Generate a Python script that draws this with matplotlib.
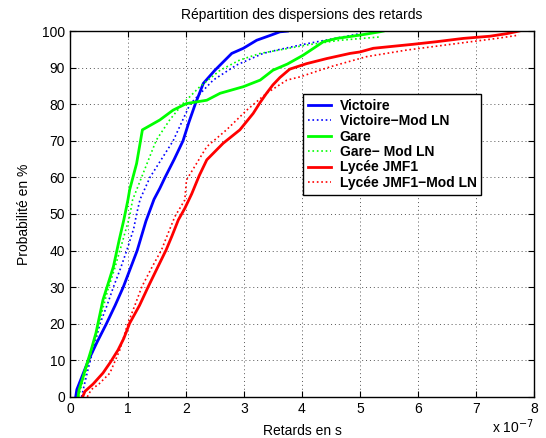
import matplotlib
matplotlib.use("Agg")
import matplotlib.pyplot as plt
from matplotlib.ticker import FuncFormatter, MultipleLocator

plt.rcParams["font.family"] = ["Liberation Sans", "DejaVu Sans"]

SCALE = 1e-7

# ================= DATA (x in units of 1e-7 s, y in %) =================
victoire_x = [0.10, 0.12, 0.22, 0.32, 0.47, 0.63, 0.78, 0.92, 1.04, 1.16, 1.31, 1.45,
              1.55, 1.64, 1.80, 1.95, 2.05, 2.16, 2.30, 2.50, 2.79, 2.99, 3.22, 3.45, 3.62, 3.75]
victoire_y = [0, 2, 6, 10, 15, 20, 25, 30, 35, 40, 48, 54,
              57, 60, 65, 70, 75, 80, 85.7, 89.3, 93.9, 95.3, 97.5, 98.8, 99.8, 100]

victoire_ln_x = [0.20, 0.23, 0.32, 0.42, 0.52, 0.64, 0.75, 0.87, 0.98, 1.10, 1.15, 1.21,
                 1.38, 1.58, 1.78, 2.07, 2.47, 2.87, 3.33, 3.62, 4.00, 4.50, 5.00]
victoire_ln_y = [0, 2, 8, 14, 20, 25, 30, 35, 40, 46, 50, 54,
                 60, 65, 70, 80, 86.6, 90.7, 93.9, 95.0, 96.3, 97.8, 99.3]

gare_x = [0.14, 0.16, 0.22, 0.28, 0.37, 0.45, 0.57, 0.66, 0.75, 0.85, 0.93, 1.00, 1.03,
          1.15, 1.25, 1.35, 1.55, 1.78, 2.01, 2.36, 2.59, 2.99, 3.28, 3.50, 3.75,
          4.02, 4.37, 4.60, 5.00, 5.34, 5.40]
gare_y = [0, 2, 5, 8.3, 13, 17.5, 26.5, 31, 35.6, 42.9, 48.4, 53.8, 56.6,
          63.8, 73, 73.9, 75.7, 78.4, 80.2, 81.1, 83, 84.8, 86.6, 89.3, 91.0,
          93.4, 97.1, 98, 98.9, 99.8, 100]

gare_ln_x = [0.15, 0.18, 0.26, 0.35, 0.45, 0.55, 0.65, 0.77, 0.88, 0.97, 1.03, 1.08,
             1.24, 1.49, 1.72, 1.95, 2.24, 2.59, 2.93, 3.28, 3.74, 4.08, 4.66, 5.34]
gare_ln_y = [0, 2, 6, 11, 17, 23, 29, 35, 41, 46, 49.3, 53.8,
             60.2, 70.2, 75.7, 80.2, 84.8, 89.3, 92.1, 93.9, 95.2, 96.2, 97.5, 98.4]

lycee_x = [0.22, 0.26, 0.40, 0.57, 0.70, 0.83, 0.93, 1.03, 1.20, 1.35, 1.50, 1.66, 1.76,
           1.87, 1.98, 2.10, 2.23, 2.36, 2.64, 2.93, 3.16, 3.28, 3.39, 3.50, 3.62, 3.79, 4.08,
           4.43, 4.83, 5.00, 5.23, 5.92, 6.32, 6.78, 7.24, 7.53, 7.74]
lycee_y = [0, 1.5, 3.5, 6.5, 9.5, 12.8, 16, 20.1, 25, 30.1, 35, 40.2, 44,
           48.4, 51.5, 55.5, 60.5, 64.8, 69.3, 73, 77.5, 80.5, 83, 85.3, 87.3, 89.6, 91.1,
           92.5, 93.9, 94.3, 95.3, 96.4, 97.1, 98, 98.6, 99.3, 100]

lycee_ln_x = [0.30, 0.37, 0.50, 0.69, 0.86, 1.00, 1.12, 1.24, 1.40, 1.58, 1.70,
              1.81, 1.98, 2.01, 2.36, 2.70, 3.05, 3.39, 3.74, 3.97, 4.48,
              5.11, 5.80, 6.67, 7.36, 7.74]
lycee_ln_y = [0, 2, 3.5, 6.5, 12.8, 20.1, 25, 30.1, 35, 40.2, 45,
              49.3, 53.8, 59.3, 68.4, 73, 78.4, 83, 86.6, 87.5, 90.2,
              93, 94.8, 96.6, 98, 98.9]

series = [
    (victoire_x, victoire_y, "b", "-", "Victoire"),
    (victoire_ln_x, victoire_ln_y, "b", ":", "Victoire\u2212Mod LN"),
    (gare_x, gare_y, "#00ff00", "-", "Gare"),
    (gare_ln_x, gare_ln_y, "#00ff00", ":", "Gare\u2212 Mod LN"),
    (lycee_x, lycee_y, "r", "-", "Lycée JMF1"),
    (lycee_ln_x, lycee_ln_y, "r", ":", "Lycée JMF1\u2212Mod LN"),
]

# ================= PLOT =================
fig = plt.figure(figsize=(5.46, 4.38), dpi=100)
ax = fig.add_axes([0.128, 0.094, 0.850, 0.835])

for xs, ys, color, ls, label in series:
    lw = 2.0 if ls == "-" else 1.2
    ax.plot([v * SCALE for v in xs], ys, color=color, linestyle=ls,
            linewidth=lw, label=label)

ax.set_xlim(0, 8 * SCALE)
ax.set_ylim(0, 100)
ax.xaxis.set_major_locator(MultipleLocator(1 * SCALE))
ax.yaxis.set_major_locator(MultipleLocator(10))
ax.xaxis.set_major_formatter(FuncFormatter(lambda v, _: "%g" % round(v / SCALE, 6)))

ax.grid(True, color="#555555", linestyle=(0, (1, 3)), linewidth=0.7)
ax.tick_params(direction="in", top=True, right=True, labelsize=10, length=4)
for sp in ax.spines.values():
    sp.set_linewidth(1.0)

ax.set_title("Répartition des dispersions des retards", fontsize=10, pad=9)
ax.set_xlabel("Retards en s", fontsize=10, labelpad=6)
ax.set_ylabel("Probabilité en %", fontsize=10, labelpad=8)
ax.text(1.0, -0.098, "x 10$^{-7}$", transform=ax.transAxes,
        ha="right", va="baseline", fontsize=10)

leg = ax.legend(loc="upper left", bbox_to_anchor=(0.502, 0.828),
                prop={"weight": "bold", "size": 10}, fancybox=False,
                edgecolor="black", framealpha=1, borderaxespad=0,
                handlelength=1.7, handletextpad=0.6, labelspacing=0.1,
                borderpad=0.35)
leg.get_frame().set_linewidth(1.0)

fig.savefig("out.png", dpi=100)
